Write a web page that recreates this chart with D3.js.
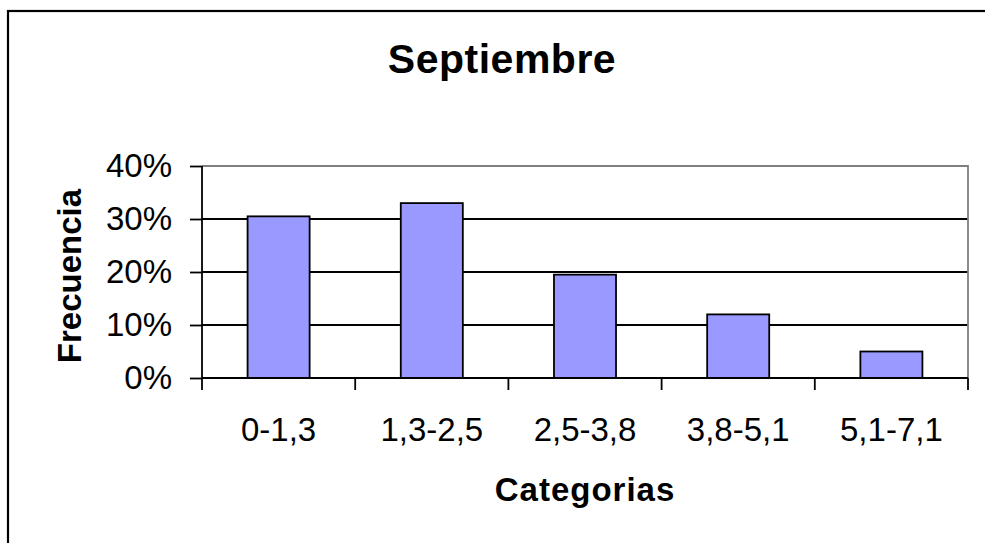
<!DOCTYPE html>
<html>
<head>
<meta charset="utf-8">
<script src="https://cdn.jsdelivr.net/npm/d3@7"></script>
<style>
  html, body { margin: 0; padding: 0; background: #fff; }
  svg { display: block; font-family: "Liberation Sans", Arial, sans-serif; }
</style>
</head>
<body>
<svg id="chart" width="985" height="543"></svg>
<script>
// Frequency distribution for September
const categories = ["0-1,3", "1,3-2,5", "2,5-3,8", "3,8-5,1", "5,1-7,1"];
const frequencies = [0.305, 0.33, 0.195, 0.12, 0.05];
const yTicks = [0, 0.1, 0.2, 0.3, 0.4];
const titleText = "Septiembre";
const xTitle = "Categorias";
const yTitle = "Frecuencia";

const svg = d3.select("#chart");
const plot = { left: 202, right: 968, top: 166, bottom: 378 };

// Outer frame (runs off the right and bottom edges)
svg.append("rect")
  .attr("x", 8).attr("y", 11)
  .attr("width", 1000).attr("height", 600)
  .attr("fill", "none").attr("stroke", "#000").attr("stroke-width", 2.2);

const x = d3.scaleBand().domain(categories).range([plot.left, plot.right]).padding(0);
const y = d3.scaleLinear().domain([0, 0.4]).range([plot.bottom, plot.top]);

// Horizontal gridlines
svg.append("g").selectAll("line")
  .data(yTicks.filter(t => t > 0 && t < 0.4))
  .join("line")
  .attr("x1", plot.left).attr("x2", plot.right)
  .attr("y1", d => y(d)).attr("y2", d => y(d))
  .attr("stroke", "#000").attr("stroke-width", 1.8);

// Plot-area border (top and right)
svg.append("path")
  .attr("d", `M${plot.left},${y(0.4)}H${plot.right}V${plot.bottom}`)
  .attr("fill", "none").attr("stroke", "#808080").attr("stroke-width", 1.8);

// Bars
const barW = x.bandwidth() * 0.405;
svg.append("g").selectAll("rect")
  .data(categories.map((c, i) => ({ c, v: frequencies[i] })))
  .join("rect")
  .attr("x", d => x(d.c) + (x.bandwidth() - barW) / 2)
  .attr("width", barW)
  .attr("y", d => y(d.v))
  .attr("height", d => y(0) - y(d.v))
  .attr("fill", "#9999FF")
  .attr("stroke", "#000").attr("stroke-width", 1.8);

// Y axis
const yAxis = d3.axisLeft(y)
  .tickValues(yTicks)
  .tickFormat(d3.format(".0%"))
  .tickSize(12).tickPadding(18);
const gy = svg.append("g").attr("transform", `translate(${plot.left},0)`).call(yAxis);
gy.select(".domain").attr("stroke", "#000").attr("stroke-width", 1.8)
  .attr("d", `M0,${plot.top}V${plot.bottom}`);
gy.selectAll(".tick line").attr("stroke", "#000").attr("stroke-width", 1.8);
gy.selectAll(".tick text")
  .attr("font-size", 33).attr("fill", "#000")
  .attr("font-family", "'Liberation Sans', Arial, sans-serif");

// X axis: ticks sit on the band edges
const edges = categories.map(c => x(c)).concat([plot.right]);
const gx = svg.append("g");
gx.append("line")
  .attr("x1", plot.left).attr("x2", plot.right)
  .attr("y1", plot.bottom).attr("y2", plot.bottom)
  .attr("stroke", "#000").attr("stroke-width", 1.8);
gx.selectAll(".edge").data(edges).join("line")
  .attr("class", "edge")
  .attr("x1", d => d).attr("x2", d => d)
  .attr("y1", plot.bottom).attr("y2", plot.bottom + 12)
  .attr("stroke", "#000").attr("stroke-width", 1.8);
gx.selectAll("text").data(categories).join("text")
  .attr("x", d => x(d) + x.bandwidth() / 2)
  .attr("y", 441)
  .attr("text-anchor", "middle")
  .attr("font-size", 33)
  .text(d => d);

// Titles
svg.append("text")
  .attr("x", 502).attr("y", 73)
  .attr("text-anchor", "middle")
  .attr("font-size", 41).attr("font-weight", "bold")
  .attr("letter-spacing", 0.5)
  .text(titleText);

svg.append("text")
  .attr("x", (plot.left + plot.right) / 2).attr("y", 501)
  .attr("text-anchor", "middle")
  .attr("font-size", 33).attr("font-weight", "bold")
  .attr("letter-spacing", 1)
  .text(xTitle);

svg.append("text")
  .attr("transform", `translate(80.5,276) rotate(-90)`)
  .attr("text-anchor", "middle")
  .attr("font-size", 33).attr("font-weight", "bold")
  .text(yTitle);
</script>
</body>
</html>
